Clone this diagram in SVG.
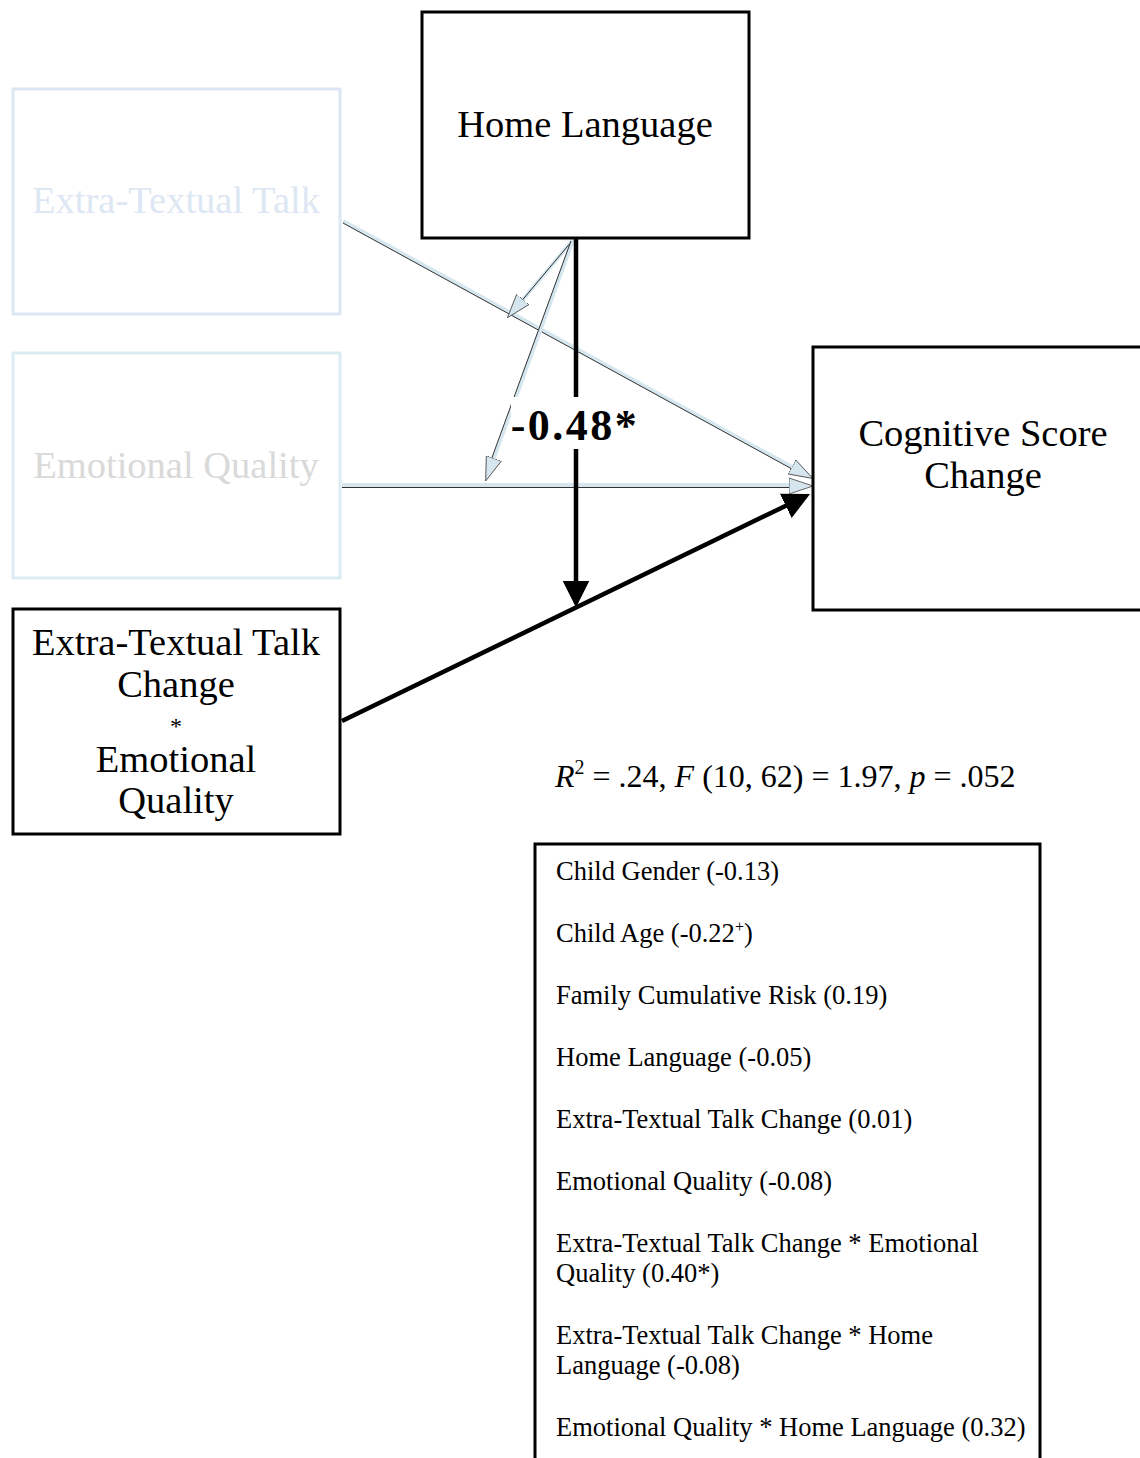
<svg xmlns="http://www.w3.org/2000/svg" width="1140" height="1458" viewBox="0 0 1140 1458">
<style>
.box{fill:#fff;stroke:#000;stroke-width:3}
.t{font-family:"Liberation Serif","Times New Roman",serif;fill:#000}
.big{font-size:38.5px;text-anchor:middle}
.leg{font-size:26.5px}
.lb{stroke:#d6e6ef;stroke-width:4;fill:none}
.dk{stroke:#333;stroke-width:1;fill:none}
.bk{stroke:#000;stroke-width:4.5;fill:none}
</style>
<defs>
<marker id="ab" markerWidth="6" markerHeight="6" refX="5" refY="3" orient="auto" markerUnits="strokeWidth">
<path d="M0,0 L6,3 L0,6 Z" fill="#000"/>
</marker>
<marker id="al" markerWidth="24" markerHeight="18" refX="23" refY="9" orient="auto" markerUnits="userSpaceOnUse">
<path d="M0,1 L24,9 L0,17 Z" fill="#d6e6ef" stroke="#444" stroke-width="0.8"/>
</marker>
</defs>
<rect width="1140" height="1458" fill="#fff"/>

<g id="connectors">
<!-- Extra-Textual Talk -> Cognitive -->
<line class="lb" x1="343" y1="221" x2="792" y2="467"/>
<line class="dk" x1="343" y1="223" x2="792" y2="469"/>
<line x1="343" y1="221" x2="812" y2="478" stroke="none" marker-end="url(#al)"/>
<!-- Emotional Quality -> Cognitive -->
<line class="lb" x1="342" y1="485" x2="795" y2="485"/>
<line class="dk" x1="342" y1="487.5" x2="795" y2="487.5"/>
<line x1="342" y1="486" x2="812" y2="486" stroke="none" marker-end="url(#al)"/>
<!-- Home Language moderator arrows -->
<line class="lb" x1="573" y1="240" x2="520" y2="303"/>
<line class="dk" x1="572" y1="241" x2="519" y2="304"/>
<line x1="573" y1="240" x2="508" y2="317" stroke="none" marker-end="url(#al)"/>
<line class="lb" x1="573" y1="240" x2="492" y2="463"/>
<line class="dk" x1="571" y1="241" x2="490" y2="463"/>
<line x1="573" y1="240" x2="486" y2="480" stroke="none" marker-end="url(#al)"/>
<!-- Home Language -> interaction path -->
<line class="bk" x1="576" y1="238" x2="576" y2="603" marker-end="url(#ab)"/>
<!-- Interaction -> Cognitive -->
<line class="bk" x1="342" y1="721" x2="806" y2="496" marker-end="url(#ab)"/>
</g>

<g id="label-048">
<rect x="511" y="397" width="128" height="52" fill="#fff"/>
<text class="t" x="575" y="440" font-size="44" font-weight="bold" letter-spacing="2.5" text-anchor="middle">-0.48*</text>
</g>

<g id="node-home-language">
<rect class="box" x="422" y="12" width="327" height="226"/>
<text class="t big" x="585" y="137">Home Language</text>
</g>

<g id="node-extra-textual-talk">
<rect x="13" y="89" width="327" height="225" fill="#fff" stroke="#dde7f3" stroke-width="3"/>
<text class="t big" x="176" y="213" style="fill:#dde7f3">Extra-Textual Talk</text>
</g>

<g id="node-emotional-quality">
<rect x="13" y="353" width="327" height="225" fill="#fff" stroke="#dbedf3" stroke-width="3"/>
<text class="t big" x="176" y="478" style="fill:#d9d9d9">Emotional Quality</text>
</g>

<g id="node-interaction">
<rect class="box" x="13" y="609" width="327" height="225"/>
<text class="t big" x="176" y="655">Extra-Textual Talk</text>
<text class="t big" x="176" y="697">Change</text>
<text class="t" x="176" y="734" font-size="24" text-anchor="middle">*</text>
<text class="t big" x="176" y="772">Emotional</text>
<text class="t big" x="176" y="813">Quality</text>
</g>

<g id="node-cognitive">
<rect class="box" x="813" y="347" width="340" height="263"/>
<text class="t big" x="983" y="446">Cognitive Score</text>
<text class="t big" x="983" y="488">Change</text>
</g>

<g id="stats">
<text class="t" x="555" y="787" font-size="32"><tspan font-style="italic">R</tspan><tspan font-size="20" dy="-13">2</tspan><tspan dy="13"> = .24, </tspan><tspan font-style="italic">F</tspan><tspan> (10, 62) = 1.97, </tspan><tspan font-style="italic">p</tspan><tspan> = .052</tspan></text>
</g>

<g id="legend">
<rect class="box" x="535" y="844" width="505" height="640" stroke-width="2"/>
<text class="t leg" x="556" y="880">Child Gender (-0.13)</text>
<text class="t leg" x="556" y="942">Child Age (-0.22<tspan font-size="16" dy="-10">+</tspan><tspan dy="10">)</tspan></text>
<text class="t leg" x="556" y="1004">Family Cumulative Risk (0.19)</text>
<text class="t leg" x="556" y="1066">Home Language (-0.05)</text>
<text class="t leg" x="556" y="1128">Extra-Textual Talk Change (0.01)</text>
<text class="t leg" x="556" y="1190">Emotional Quality (-0.08)</text>
<text class="t leg" x="556" y="1252">Extra-Textual Talk Change * Emotional</text>
<text class="t leg" x="556" y="1282">Quality (0.40*)</text>
<text class="t leg" x="556" y="1344">Extra-Textual Talk Change * Home</text>
<text class="t leg" x="556" y="1374">Language (-0.08)</text>
<text class="t leg" x="556" y="1436">Emotional Quality * Home Language (0.32)</text>
</g>
</svg>
